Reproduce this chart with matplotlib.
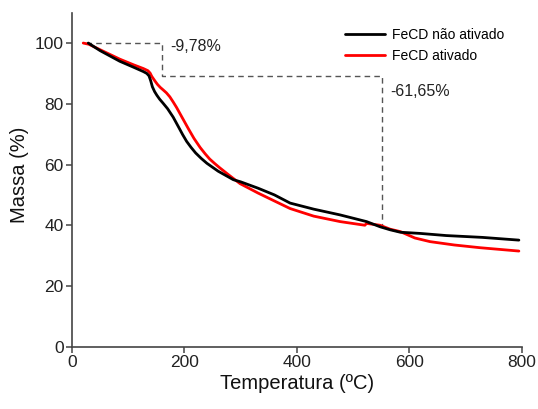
import matplotlib
matplotlib.use("Agg")
import matplotlib.pyplot as plt

plt.rcParams['font.family'] = ['Liberation Sans', 'DejaVu Sans']

# Data
temp_nao = [29, 50, 85, 110, 127, 133, 137, 140, 143, 147, 151, 156, 162, 170, 180, 190, 197,
            204, 212, 220, 230, 240, 260, 287, 300, 331, 360, 388, 430, 477, 524, 548, 566,
            584, 620, 666, 730, 795]
massa_nao = [100, 97.5, 94, 92, 90.6, 90.0, 89.2, 87.6, 85.6, 84.0, 82.8, 81.5, 80.2, 78.4,
             75.6, 72.2, 69.8, 67.6, 65.6, 63.8, 62.0, 60.4, 57.8, 55, 54.3, 52.2, 50, 47.3,
             45.3, 43.4, 41.2, 39.5, 38.5, 37.7, 37.3, 36.6, 36.0, 35.1]

temp_ativ = [20, 30, 50, 85, 110, 127, 135, 139, 142, 145, 148, 152, 157, 162, 168, 174, 180,
             186, 192, 198, 207, 217, 228, 237, 245, 254, 263, 280, 299, 331, 360, 388, 430,
             477, 521, 524, 548, 566, 584, 610, 637, 680, 726, 795]
massa_ativ = [100, 99.6, 97.8, 94.7, 92.8, 91.6, 90.9, 90.1, 89.0, 88.2, 87.4, 86.4, 85.4,
              84.6, 83.6, 82.3, 80.6, 78.8, 76.8, 74.8, 71.8, 68.6, 65.6, 63.5, 61.8, 60.3,
              58.9, 56.4, 53.7, 50.6, 48, 45.5, 43, 41.2, 40.0, 40.6, 40.0, 38.7, 37.9, 35.8,
              34.6, 33.5, 32.6, 31.5]

# Dashed guide lines
guide_x = [25, 160, 160, 551, 551]
guide_y = [100, 100, 89, 89, 40]
labels = ["FeCD não ativado", "FeCD ativado"]
annot1 = ("-9,78%", 174, 99)
annot2 = ("-61,65%", 566, 84)

fig = plt.figure(figsize=(5.38, 4.09), dpi=100)
ax = fig.add_axes([0.1338, 0.1523, 0.8359, 0.8167])

ax.plot(guide_x, guide_y, color='#555555', lw=1.0, ls=(0, (4, 3)), zorder=1)
ax.plot(temp_nao, massa_nao, color='black', lw=2.0, label=labels[0], zorder=3,
        solid_capstyle='round', solid_joinstyle='round')
ax.plot(temp_ativ, massa_ativ, color='#ff0000', lw=2.0, label=labels[1], zorder=2,
        solid_capstyle='round', solid_joinstyle='round')

ax.text(annot1[1], annot1[2], annot1[0], fontsize=11.5, color='#222222', va='center', ha='left')
ax.text(annot2[1], annot2[2], annot2[0], fontsize=11.5, color='#222222', va='center', ha='left')

ax.set_xlim(0, 800)
ax.set_ylim(0, 110)
ax.set_xticks([0, 200, 400, 600, 800])
ax.set_yticks([0, 20, 40, 60, 80, 100])

for s in ['top', 'right']:
    ax.spines[s].set_visible(False)
for s in ['left', 'bottom']:
    ax.spines[s].set_color('#444444')
    ax.spines[s].set_linewidth(1.2)
ax.tick_params(direction='out', length=4, width=1.1, color='#444444',
               labelsize=12.5, labelcolor='#222222', pad=2)

ax.set_xlabel("Temperatura (ºC)", fontsize=14.5, color='#111111', labelpad=3)
ax.set_ylabel("Massa (%)", fontsize=14.5, color='#111111')
ax.yaxis.set_label_coords(-0.095, 0.515)

leg = ax.legend(loc='upper left', bbox_to_anchor=(0.607, 0.955), frameon=False, fontsize=10,
                handlelength=2.9, handletextpad=0.5, labelspacing=0.55,
                borderpad=0, borderaxespad=0)

fig.savefig("out.png", dpi=100, facecolor='white')
